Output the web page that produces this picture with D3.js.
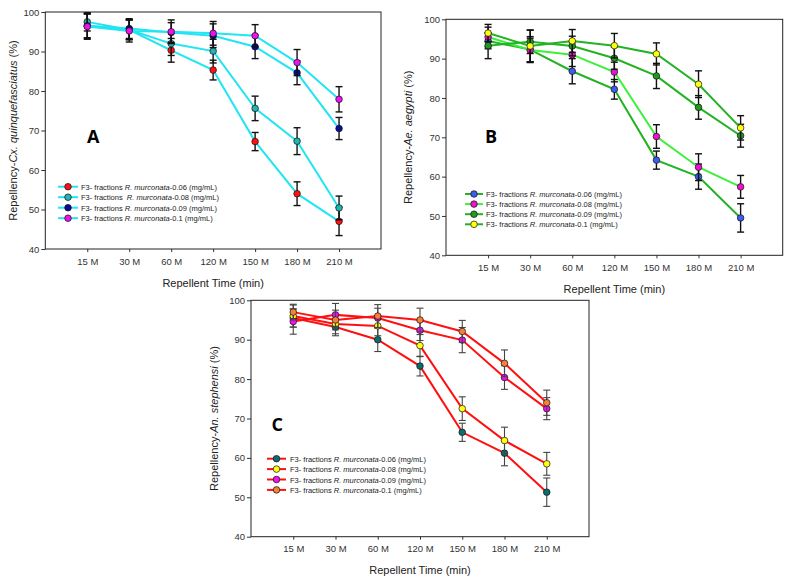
<!DOCTYPE html>
<html>
<head>
<meta charset="utf-8">
<script src="https://cdn.jsdelivr.net/npm/d3@7"></script>
<style>
  html, body { margin: 0; padding: 0; background: #fff; }
  svg { display: block; font-family: "Liberation Sans", Arial, sans-serif; }
</style>
</head>
<body>
<svg id="chart" width="793" height="581"></svg>
<script>
// ---------- DATA ----------
const categories = ["15 M", "30 M", "60 M", "120 M", "150 M", "180 M", "210 M"];
const yTicks = [40, 50, 60, 70, 80, 90, 100];

// Panel A (Cx. quinquefasciatus)
const aLabels = ["-0.06 (mg/mL)", "-0.08 (mg/mL)", "-0.09 (mg/mL)", "-0.1 (mg/mL)"];
const aVal006 = [96.5, 95.5, 90.3, 85.3, 67.2, 54.0, 47.0];
const aVal008 = [97.5, 95.5, 92.0, 90.1, 75.6, 67.3, 50.4];
const aVal009 = [96.5, 95.8, 94.8, 94.0, 91.2, 84.6, 70.5];
const aVal01  = [96.3, 95.2, 95.0, 94.6, 94.0, 87.2, 77.9];
const aErr006 = [3.2, 2.5, 3.0, 2.5, 2.3, 3.0, 3.6];
const aErr008 = [2.3, 2.5, 3.0, 3.0, 3.1, 3.4, 3.0];
const aErr009 = [3.0, 2.5, 2.5, 3.0, 3.0, 3.0, 2.8];
const aErr01  = [3.2, 2.8, 3.0, 3.0, 2.8, 3.3, 3.2];

// Panel B (Ae. aegypti)
const bVal006 = [94.5, 92.3, 86.8, 82.2, 64.2, 60.0, 49.5];
const bVal008 = [95.5, 92.2, 91.0, 86.6, 70.2, 62.4, 57.4];
const bVal009 = [93.3, 94.3, 93.2, 90.1, 85.6, 77.6, 70.4];
const bVal01  = [96.5, 93.2, 94.5, 93.3, 91.2, 83.5, 72.4];
const bErr006 = [2.0, 3.3, 3.2, 2.5, 2.3, 3.2, 3.6];
const bErr008 = [2.5, 3.0, 3.0, 2.5, 3.0, 3.4, 2.9];
const bErr009 = [3.3, 3.0, 2.5, 2.8, 3.2, 3.0, 2.9];
const bErr01  = [2.2, 4.0, 2.9, 3.1, 2.8, 3.4, 3.1];

// Panel C (An. stephensi)
const cVal006 = [95.5, 93.2, 90.0, 83.3, 66.5, 61.2, 51.3];
const cVal008 = [96.0, 94.0, 93.5, 88.5, 72.5, 64.4, 58.5];
const cVal009 = [94.6, 96.3, 95.5, 92.4, 89.9, 80.4, 72.5];
const cVal01  = [97.0, 95.0, 96.0, 95.0, 92.1, 84.0, 74.0];
const cErr006 = [2.3, 2.2, 3.0, 2.5, 2.3, 3.2, 3.6];
const cErr008 = [2.8, 2.5, 2.5, 2.8, 3.0, 3.4, 2.9];
const cErr009 = [3.2, 2.9, 2.5, 2.6, 3.2, 3.0, 2.8];
const cErr01  = [2.0, 2.5, 2.9, 3.0, 2.8, 3.4, 3.2];

// ---------- PANEL CONFIG ----------
const panels = [
  {
    letter: "A", species: "Cx. quinquefasciatus",
    box: {l: 45.3, t: 12, r: 381, b: 249},
    letterPos: [87, 143.3], yLabelX: 12.5, xLabelY: 287,
    legend: {x1: 58, x2: 78, tx: 81, y0: 186.7, dy: 10.5},
    errColor: "#111", errWidth: 1.4,
    series: [
      {vals: aVal006, errs: aErr006, fill: "#ff1010", line: "#22e4f2", sep: " "},
      {vals: aVal008, errs: aErr008, fill: "#22b5ae", line: "#22e4f2", sep: "  "},
      {vals: aVal009, errs: aErr009, fill: "#0a0a9a", line: "#22e4f2", sep: " "},
      {vals: aVal01,  errs: aErr01,  fill: "#ee10ee", line: "#22e4f2", sep: " "}
    ]
  },
  {
    letter: "B", species: "Ae. aegypti",
    box: {l: 446, t: 19.3, r: 782.7, b: 255.3},
    letterPos: [485, 142.5], yLabelX: 408, xLabelY: 293,
    legend: {x1: 465, x2: 483, tx: 486, y0: 194, dy: 10.1},
    errColor: "#111", errWidth: 1.4,
    series: [
      {vals: bVal006, errs: bErr006, fill: "#3f5bf0", line: "#22b322", sep: " "},
      {vals: bVal008, errs: bErr008, fill: "#f010d0", line: "#3cf03c", sep: " "},
      {vals: bVal009, errs: bErr009, fill: "#1f9a1f", line: "#22b322", sep: " "},
      {vals: bVal01,  errs: bErr01,  fill: "#ffff10", line: "#22b322", sep: " "}
    ]
  },
  {
    letter: "C", species: "An. stephensi",
    box: {l: 251, t: 300.3, r: 589, b: 536.7},
    letterPos: [271.5, 430.7], yLabelX: 213.5, xLabelY: 574,
    legend: {x1: 267, x2: 286, tx: 290, y0: 458.7, dy: 10.4},
    errColor: "#444", errWidth: 1.1,
    series: [
      {vals: cVal006, errs: cErr006, fill: "#0a6e6e", line: "#ff1010", sep: " "},
      {vals: cVal008, errs: cErr008, fill: "#ffff10", line: "#ff1010", sep: " "},
      {vals: cVal009, errs: cErr009, fill: "#f010f0", line: "#ff1010", sep: " "},
      {vals: cVal01,  errs: cErr01,  fill: "#f5803a", line: "#ff1010", sep: " "}
    ]
  }
];

const svg = d3.select("#chart");

panels.forEach(p => {
  const g = svg.append("g");
  const x = d3.scaleLinear().domain([0, categories.length + 1]).range([p.box.l, p.box.r]);
  const y = d3.scaleLinear().domain([40, 100]).range([p.box.b, p.box.t]);

  // axes
  const yAxis = d3.axisLeft(y).tickValues(yTicks).tickSize(4).tickSizeOuter(0).tickPadding(2);
  const xAxis = d3.axisBottom(x).tickValues(d3.range(1, categories.length + 1))
    .tickFormat(i => categories[i - 1]).tickSize(3).tickSizeOuter(0).tickPadding(6);

  const ya = g.append("g").attr("transform", `translate(${p.box.l},0)`).call(yAxis);
  const xa = g.append("g").attr("transform", `translate(0,${p.box.b})`).call(xAxis);
  [ya, xa].forEach(a => {
    a.select(".domain").remove();
    a.selectAll(".tick line").attr("stroke", "#333");
    a.selectAll(".tick text").attr("fill", "#333").style("font-size", "9.5px")
      .style("font-family", "'Liberation Sans', Arial, sans-serif");
  });

  // frame
  g.append("rect")
    .attr("x", p.box.l).attr("y", p.box.t)
    .attr("width", p.box.r - p.box.l).attr("height", p.box.b - p.box.t)
    .attr("fill", "none").attr("stroke", "#222").attr("stroke-width", 1);

  // axis titles
  const yl = g.append("text")
    .attr("transform", `translate(${p.yLabelX},${(p.box.t + p.box.b) / 2}) rotate(-90)`)
    .attr("text-anchor", "middle").attr("dominant-baseline", "central")
    .style("font-size", "11px").attr("fill", "#222");
  yl.append("tspan").text("Repellency-");
  yl.append("tspan").style("font-style", "italic").text(p.species);
  yl.append("tspan").text(" (%)");

  g.append("text")
    .attr("x", (p.box.l + p.box.r) / 2).attr("y", p.xLabelY)
    .attr("text-anchor", "middle").style("font-size", "11px").attr("fill", "#222")
    .text("Repellent Time (min)");

  // panel letter
  g.append("text")
    .attr("x", p.letterPos[0]).attr("y", p.letterPos[1])
    .style("font-family", "'Open Sans', 'Liberation Sans', sans-serif")
    .style("font-weight", "bold").style("font-size", "18px").attr("fill", "#000")
    .text(p.letter);

  const line = d3.line().x((d, i) => x(i + 1)).y(d => y(d));
  const cap = 3.5;

  p.series.forEach(s => {
    const sg = g.append("g");
    sg.append("path").datum(s.vals).attr("d", line)
      .attr("fill", "none").attr("stroke", s.line).attr("stroke-width", 2);
    const eb = sg.selectAll(".eb").data(s.vals).enter().append("g");
    eb.append("line")
      .attr("x1", (d, i) => x(i + 1)).attr("x2", (d, i) => x(i + 1))
      .attr("y1", (d, i) => y(d + s.errs[i])).attr("y2", (d, i) => y(d - s.errs[i]))
      .attr("stroke", p.errColor).attr("stroke-width", p.errWidth);
    eb.append("line")
      .attr("x1", (d, i) => x(i + 1) - cap).attr("x2", (d, i) => x(i + 1) + cap)
      .attr("y1", (d, i) => y(d + s.errs[i])).attr("y2", (d, i) => y(d + s.errs[i]))
      .attr("stroke", p.errColor).attr("stroke-width", p.errWidth);
    eb.append("line")
      .attr("x1", (d, i) => x(i + 1) - cap).attr("x2", (d, i) => x(i + 1) + cap)
      .attr("y1", (d, i) => y(d - s.errs[i])).attr("y2", (d, i) => y(d - s.errs[i]))
      .attr("stroke", p.errColor).attr("stroke-width", p.errWidth);
    sg.selectAll("circle").data(s.vals).enter().append("circle")
      .attr("cx", (d, i) => x(i + 1)).attr("cy", d => y(d)).attr("r", 3.3)
      .attr("fill", s.fill).attr("stroke", "#111").attr("stroke-width", 0.7);
  });

  // legend
  const lg = g.append("g");
  p.series.forEach((s, k) => {
    const ly = p.legend.y0 + k * p.legend.dy;
    lg.append("line").attr("x1", p.legend.x1).attr("x2", p.legend.x2)
      .attr("y1", ly).attr("y2", ly).attr("stroke", s.line).attr("stroke-width", 2);
    lg.append("circle").attr("cx", (p.legend.x1 + p.legend.x2) / 2).attr("cy", ly).attr("r", 3.3)
      .attr("fill", s.fill).attr("stroke", "#111").attr("stroke-width", 0.7);
    const t = lg.append("text").attr("x", p.legend.tx).attr("y", ly)
      .attr("dominant-baseline", "central").style("font-size", "7.5px").attr("fill", "#222")
      .attr("xml:space", "preserve");
    t.append("tspan").text("F3- fractions" + s.sep);
    t.append("tspan").style("font-style", "italic").text("R. murconata");
    t.append("tspan").text(aLabels[k]);
  });
});
</script>
</body>
</html>
